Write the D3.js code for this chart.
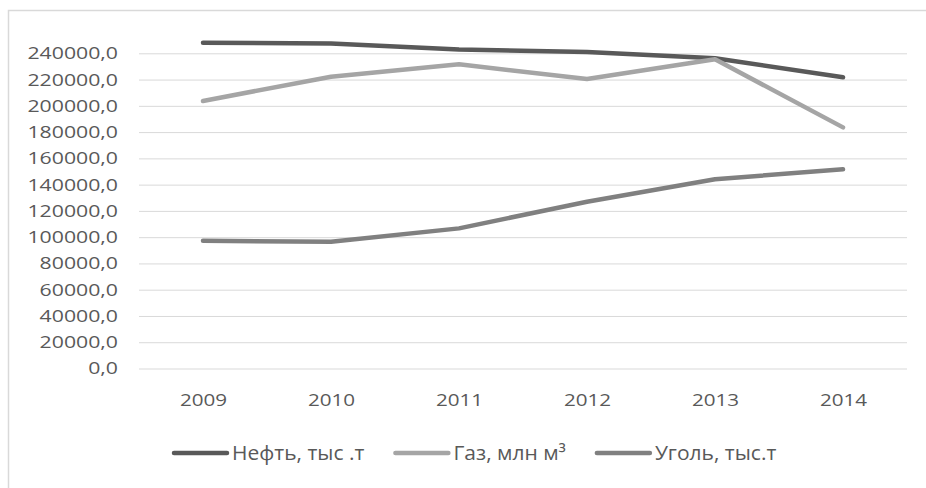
<!DOCTYPE html>
<html>
<head>
<meta charset="utf-8">
<script src="https://cdn.jsdelivr.net/npm/d3@7"></script>
<style>
  html, body { margin: 0; padding: 0; background: #fff; }
  svg { display: block; }
  text { font-family: "Open Sans", sans-serif; fill: #595959; }
</style>
</head>
<body>
<svg id="chart" width="926" height="488"></svg>
<script>
const years = ["2009", "2010", "2011", "2012", "2013", "2014"];
const oil   = [248100, 247500, 242900, 241000, 236200, 221700];
const gas   = [203700, 222200, 231600, 220400, 235400, 183600];
const coal  = [97300, 96500, 106700, 127000, 144100, 151700];
const seriesNames = ["Нефть, тыс .т", "Газ, млн м³", "Уголь, тыс.т"];
const seriesColors = ["#595959", "#a5a5a5", "#808080"];
const yTicks = [0, 20000, 40000, 60000, 80000, 100000, 120000, 140000, 160000, 180000, 200000, 220000, 240000];

const series = [oil, gas, coal];
const SX = 1.25; // horizontal stretch of the reference text

const svg = d3.select("#chart");

function stretch(sel, factor) {
  sel.each(function () {
    const w = this.getComputedTextLength();
    d3.select(this).attr("textLength", w * factor).attr("lengthAdjust", "spacingAndGlyphs");
  });
}

// outer border
svg.append("rect")
  .attr("x", 8.5).attr("y", 10.5)
  .attr("width", 940).attr("height", 500)
  .attr("fill", "none").attr("stroke", "#d9d9d9").attr("stroke-width", 1.5);

const x = d3.scalePoint().domain(years).range([139, 907]).padding(0.5);
const y = d3.scaleLinear().domain([0, 240000]).range([368.5, 53.3]);

// grid lines via axis
const grid = svg.append("g")
  .attr("transform", "translate(139,0)")
  .call(d3.axisLeft(y).tickValues(yTicks).tickSize(-768).tickFormat(""));
grid.select(".domain").remove();
grid.selectAll(".tick line").attr("stroke", "#d9d9d9").attr("stroke-width", 1);

// y labels
const fmt = v => d3.format(".1f")(v).replace(".", ",");
const yAxis = svg.append("g")
  .attr("transform", "translate(118,0)")
  .call(d3.axisLeft(y).tickValues(yTicks).tickSize(0).tickPadding(0).tickFormat(fmt));
yAxis.select(".domain").remove();
yAxis.selectAll("text")
  .attr("font-family", "Open Sans").attr("font-size", 17).attr("fill", "#595959")
  .call(stretch, SX);

// x labels
const xAxis = svg.append("g")
  .attr("transform", "translate(0,368.5)")
  .call(d3.axisBottom(x).tickSize(0).tickPadding(25));
xAxis.select(".domain").remove();
xAxis.selectAll("text")
  .attr("font-family", "Open Sans").attr("font-size", 17).attr("fill", "#595959")
  .call(stretch, SX * 0.97);

// lines
const line = d3.line().x((d, i) => x(years[i])).y(d => y(d));
series.forEach((s, k) => {
  svg.append("path")
    .datum(s)
    .attr("d", line)
    .attr("fill", "none")
    .attr("stroke", seriesColors[k])
    .attr("stroke-width", 4.5)
    .attr("stroke-linecap", "round")
    .attr("stroke-linejoin", "round");
});

// legend
const legend = svg.append("g").attr("transform", "translate(0,453)");
let lx = 174;
seriesNames.forEach((name, k) => {
  legend.append("line")
    .attr("x1", lx).attr("x2", lx + 53)
    .attr("y1", 0).attr("y2", 0)
    .attr("stroke", seriesColors[k]).attr("stroke-width", 4.5)
    .attr("stroke-linecap", "round");
  const t = legend.append("text")
    .attr("x", lx + 58).attr("y", 0).attr("dy", "0.36em")
    .attr("font-family", "Open Sans").attr("font-size", 20).attr("fill", "#595959")
    .text(name);
  t.call(stretch, 1.05);
  const w = +t.attr("textLength");
  lx = lx + 58 + w + 31;
});
</script>
</body>
</html>
